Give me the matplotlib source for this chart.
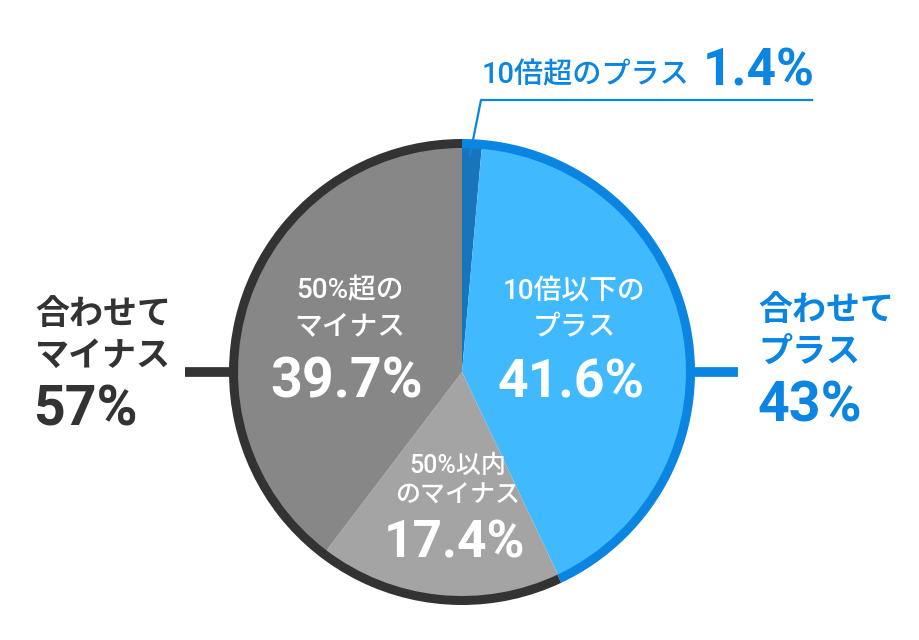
import matplotlib
matplotlib.use('Agg')
from matplotlib import pyplot as plt

# slice data (clockwise from top)
slice_labels = ['10倍超のプラス', '10倍以下の\nプラス', '50%以内\nのマイナス', '50%超の\nマイナス']
slice_values = [1.4, 41.6, 17.4, 39.7]
slice_colors = ['#1a74b9', '#40b9ff', '#a4a4a4', '#878787']

# outer ring (grouped)
group_labels = ['合わせて\nプラス', '合わせて\nマイナス']
group_values = [43, 57]
group_colors = ['#0a85e1', '#333333']

FONT = ['Roboto', 'Noto Sans CJK JP', 'DejaVu Sans']
plt.rcParams['font.family'] = FONT

W, H = 920, 640
fig = plt.figure(figsize=(9.2, 6.4), dpi=100)
ax = fig.add_axes([0, 0, 1, 1])
ax.set_xlim(0, W)
ax.set_ylim(0, H)
ax.axis('off')

cx, cy = 462, H - 372
ax.pie(group_values, colors=group_colors, startangle=90, counterclock=False,
       radius=233, center=(cx, cy), wedgeprops=dict(width=10, linewidth=0))
ax.pie(slice_values, colors=slice_colors, startangle=90, counterclock=False,
       radius=224, center=(cx, cy), wedgeprops=dict(linewidth=0))
ax.set_xlim(0, W)
ax.set_ylim(0, H)
ax.set_aspect('equal')

# side connector bars
ax.plot([185, 232], [cy, cy], color=group_colors[1], lw=7, solid_capstyle='butt')
ax.plot([694, 738], [cy, cy], color=group_colors[0], lw=7, solid_capstyle='butt')

# leader line for the small slice
ax.plot([470, 481, 812], [H - 155, H - 100, H - 100], color=group_colors[0], lw=1.6)

# small slice label
ax.text(482, H - 75, slice_labels[0], color=group_colors[0], fontsize=21,
        fontweight='medium', ha='left', va='center')
ax.text(703, H - 72, '%.1f%%' % slice_values[0], color=group_colors[0], fontsize=37,
        fontweight='bold', ha='left', va='center')

# inside labels
inside = [(1, 574, 309, 383, 20, 38.5, 1.42), (2, 458, 481, 543, 18, 37, 1.3),
          (3, 350, 309, 383, 20, 40, 1.42)]
for i, x, ty, py, sz, psz, ls in inside:
    ax.text(x, H - ty, slice_labels[i], color='white', fontsize=sz, fontweight='medium',
            ha='center', va='center', linespacing=ls)
    ax.text(x - 3, H - py, '%.1f%%' % slice_values[i], color='white', fontsize=psz,
            fontweight='bold', ha='center', va='center')

# group labels
ax.text(35, H - 336, group_labels[1], color=group_colors[1], fontsize=24.5,
        fontweight='bold', ha='left', va='center', linespacing=1.42)
ax.text(33, H - 410, '%d%%' % group_values[1], color=group_colors[1], fontsize=40,
        fontweight='bold', ha='left', va='center')
ax.text(758, H - 332, group_labels[0], color=group_colors[0], fontsize=24.5,
        fontweight='bold', ha='left', va='center', linespacing=1.4)
ax.text(758, H - 407, '%d%%' % group_values[0], color=group_colors[0], fontsize=40,
        fontweight='bold', ha='left', va='center')

fig.savefig('out.png', dpi=100)
